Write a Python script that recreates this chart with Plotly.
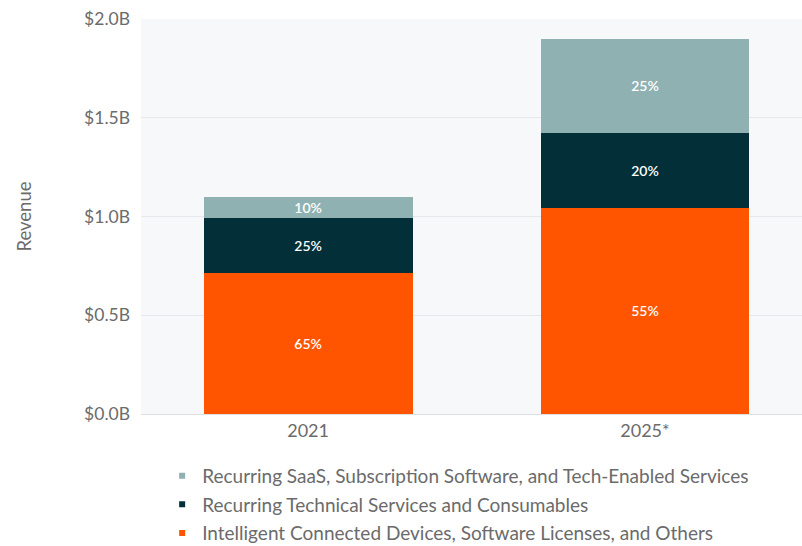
import plotly.graph_objects as go

years = ["2021", "2025*"]
totals = [1.1, 1.9]
series_names = [
    "Intelligent Connected Devices, Software Licenses, and Others",
    "Recurring Technical Services and Consumables",
    "Recurring SaaS, Subscription Software, and Tech-Enabled Services",
]
shares = [
    [0.65, 0.55],
    [0.25, 0.20],
    [0.10, 0.25],
]
colors = ["#ff5500", "#022f38", "#8fb1b1"]

FONT = "Lato, 'Open Sans', sans-serif"
fig = go.Figure()
for name, sh, col in zip(series_names, shares, colors):
    vals = [t * s for t, s in zip(totals, sh)]
    fig.add_trace(go.Bar(
        x=years, y=vals, name=name, marker=dict(color=col, line=dict(width=0)),
        text=[f"{round(s*100)}%" for s in sh], textposition="inside",
        insidetextanchor="middle", constraintext="none",
        textfont=dict(color="white", size=14, family=FONT, weight=600),
        showlegend=False, width=0.62, hoverinfo="skip",
    ))
# legend markers
for i, (name, col) in enumerate(zip(series_names, colors)):
    fig.add_trace(go.Scatter(
        x=[None], y=[None], mode="markers", name=name,
        marker=dict(symbol="square", size=6, color=col),
        legendgroup=f"g{i}", legendrank=3 - i,
    ))

fig.update_layout(
    width=802, height=546,
    margin=dict(l=141, r=0, t=19, b=132, autoexpand=False),
    barmode="stack",
    paper_bgcolor="white",
    plot_bgcolor="#f7f8fa",
    font=dict(family=FONT, color="#6b6b6b", size=17),
    yaxis=dict(
        range=[0, 2.0], tickvals=[0, 0.5, 1.0, 1.5, 2.0],
        ticktext=["$0.0B", "$0.5B", "$1.0B", "$1.5B", "$2.0B"],
        showgrid=True, gridcolor="#e6e8eb", zeroline=False,
        tickfont=dict(size=17.5, color="#6b6b6b"), ticks="", ticklabelstandoff=10,
        title=dict(text="Revenue", font=dict(size=18.5, color="#6b6b6b"), standoff=47),
    ),
    xaxis=dict(
        range=[-0.496, 1.466],
        tickfont=dict(size=18, color="#6b6b6b"), showline=True, linecolor="#dcdfe3",
        linewidth=1, ticks="",
    ),
    legend=dict(
        orientation="v", x=0.032, xanchor="left", y=-0.1084, yanchor="top",
        font=dict(size=19, color="#6b6b6b"), tracegroupgap=1,
        bgcolor="rgba(0,0,0,0)", itemwidth=30,
    ),
    showlegend=True,
)
fig.write_html("out.html")
